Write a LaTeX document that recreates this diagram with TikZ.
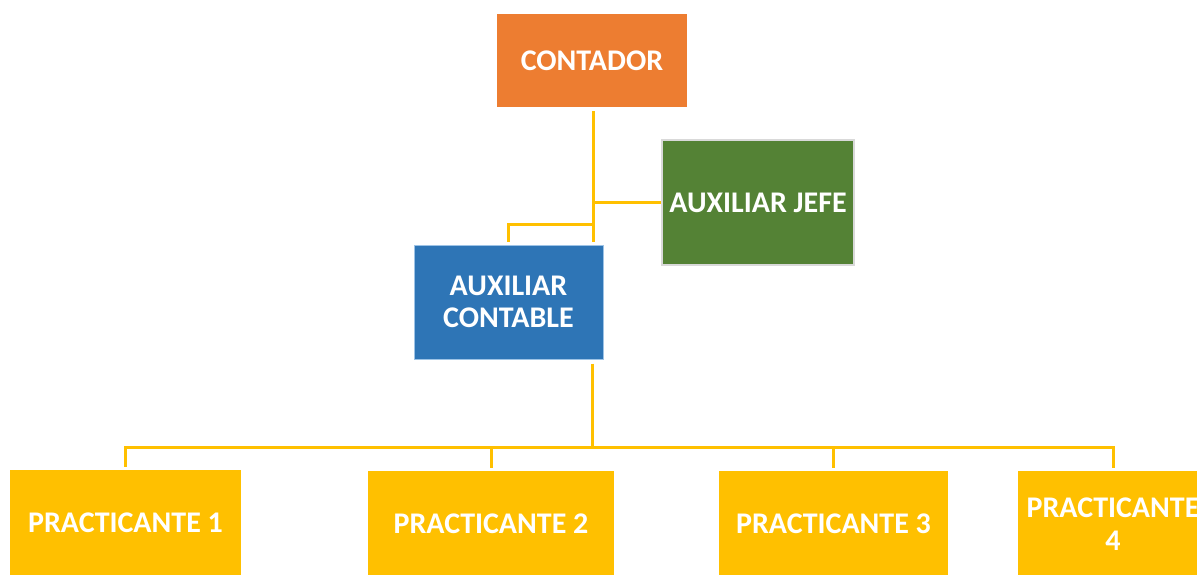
\documentclass[tikz,border=0pt]{standalone}
\usepackage{fontspec}
\setmainfont{Carlito}
\definecolor{corange}{HTML}{ED7D31}
\definecolor{cgreen}{HTML}{548235}
\definecolor{cblue}{HTML}{2E75B6}
\definecolor{cyellow}{HTML}{FFC000}
\definecolor{cgrayb}{HTML}{D9D9D9}
\definecolor{cblueb}{HTML}{9DC3E6}
\tikzset{
  box/.style={rectangle, inner sep=0pt, text=white, align=center,
    font=\fontsize{30}{32.5}\selectfont\bfseries},
  conn/.style={draw=cyellow, line width=3pt}
}
\begin{document}
\begin{tikzpicture}[x=1pt,y=-1pt]
\useasboundingbox (0,0) rectangle (1197,574);
\fill[white] (0,0) rectangle (1197,574);
\node[box, fill=corange, minimum width=190pt, minimum height=93pt] (contador) at (592,60.5) {CONTADOR};
\node[box, fill=cgreen, draw=cgrayb, line width=2pt, minimum width=192pt, minimum height=125pt] (jefe) at (758,202.5) {AUXILIAR JEFE};
\node[box, fill=cblue, draw=cblueb, line width=1pt, minimum width=189pt, minimum height=114pt] (auxcont) at (508.5,302) {AUXILIAR\\CONTABLE};
\node[box, fill=cyellow, minimum width=231pt, minimum height=106pt] (p1) at (125.5,523) {PRACTICANTE 1};
\node[box, fill=cyellow, minimum width=246pt, minimum height=106pt] (p2) at (491,524) {PRACTICANTE 2};
\node[box, fill=cyellow, minimum width=229pt, minimum height=106pt] (p3) at (833.5,524) {PRACTICANTE 3};
\node[box, fill=cyellow, minimum width=190pt, minimum height=106pt] (p4) at (1113,524) {PRACTICANTE\\4};
\coordinate (spine) at (593,224);
\coordinate (bus) at (592,447);
\draw[conn, shorten <=4pt, shorten >=3pt] (contador.south -| spine) -- (auxcont.north -| spine);
\draw[conn] (jefe.west -| spine) -- (jefe.west);
\draw[conn, shorten >=3pt] (spine) -| (auxcont.north);
\draw[conn, shorten <=4pt] (auxcont.south -| bus) -- (bus);
\draw[conn, shorten <=3pt] (p1.north) |- (bus);
\draw[conn, shorten <=3pt] (p4.north) |- (bus);
\draw[conn, shorten <=3pt] (p2.north) -- (p2.north |- bus);
\draw[conn, shorten <=3pt] (p3.north) -- (p3.north |- bus);
\end{tikzpicture}
\end{document}
